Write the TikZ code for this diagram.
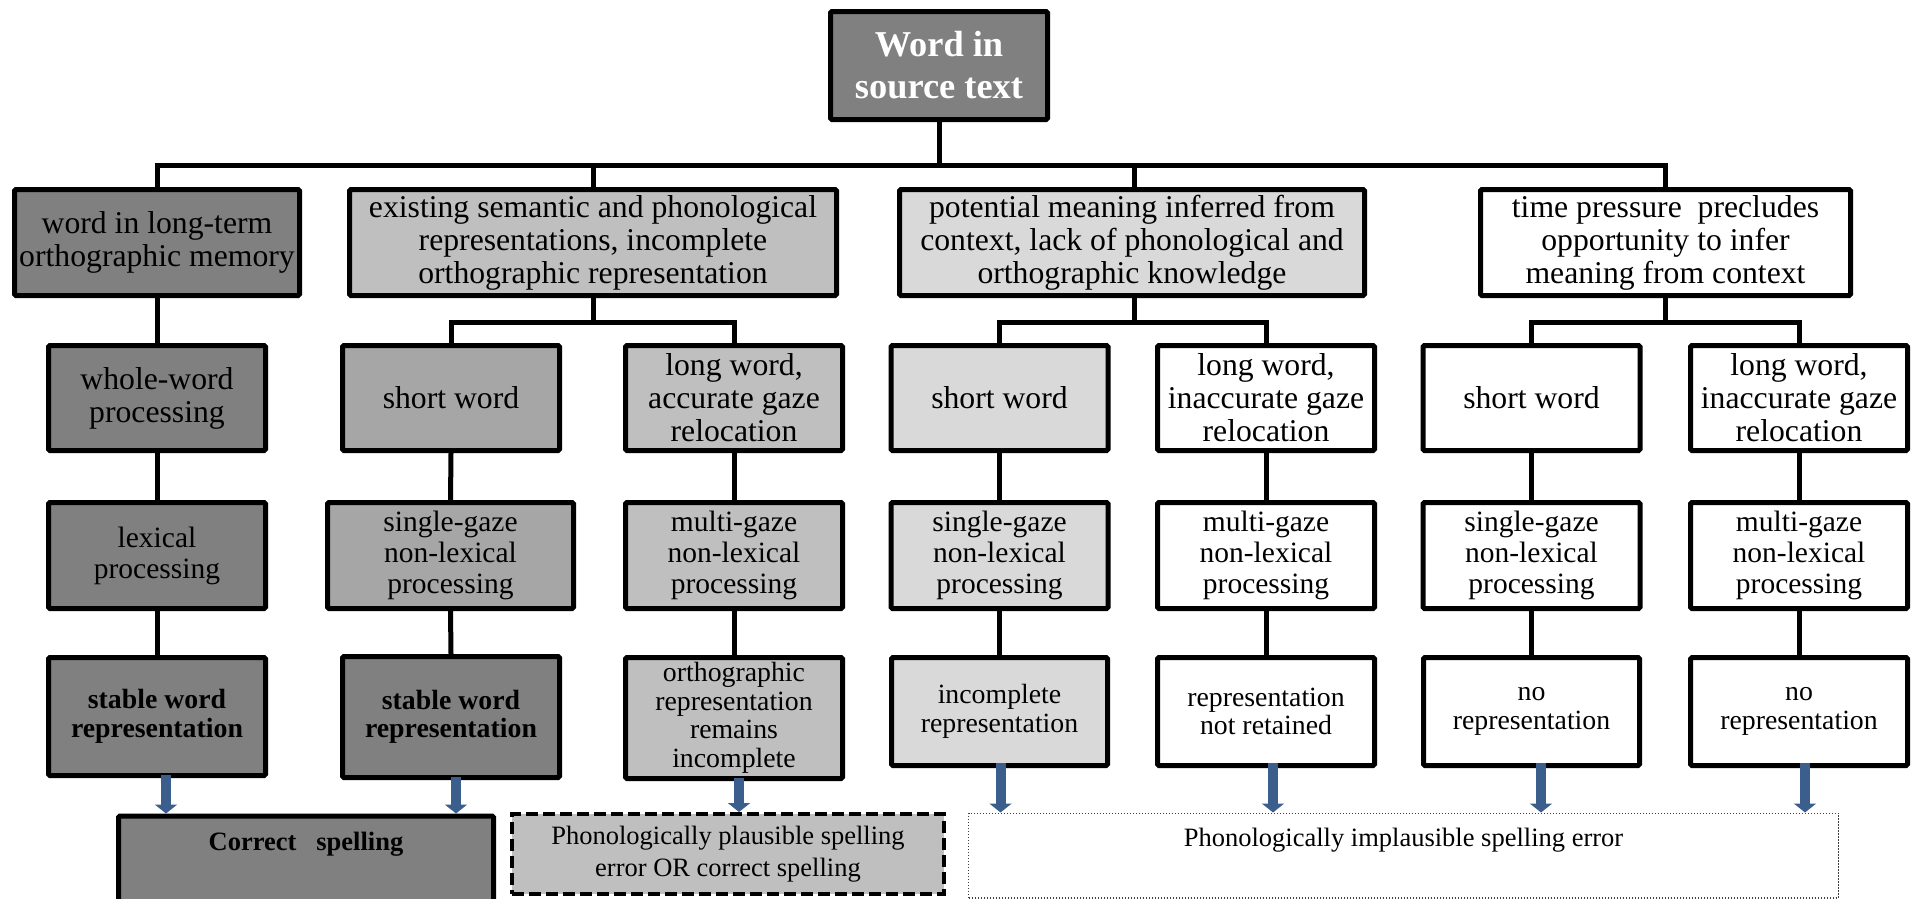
\documentclass[tikz,border=0pt]{standalone}
\usepackage{fontspec}
\setmainfont{Liberation Serif}
\usetikzlibrary{arrows.meta}
\definecolor{gdark}{HTML}{808080}
\definecolor{gmed}{HTML}{A6A6A6}
\definecolor{glight}{HTML}{BFBFBF}
\definecolor{glighter}{HTML}{D9D9D9}
\definecolor{arrowblue}{HTML}{3B5E8C}
\tikzset{
  box/.style={draw=black, line width=5pt, rounded corners=1.5pt, inner sep=0pt, align=center, text=black},
  ftop/.style={font=\fontsize{36.4}{42}\selectfont\bfseries},
  fone/.style={font=\fontsize{31.7}{33}\selectfont},
  fthree/.style={font=\fontsize{29.5}{31}\selectfont},
  ffour/.style={font=\fontsize{27.8}{28.5}\selectfont},
  ffourb/.style={font=\fontsize{27.8}{28.5}\selectfont\bfseries},
  fbot/.style={font=\fontsize{26.5}{32}\selectfont},
  conn/.style={draw=black, line width=5pt},
  barrow/.style={draw=arrowblue, line width=10pt, -{Triangle[width=22pt,length=9pt]}},
  lone/.style={minimum height=106pt},
  ltwo/.style={minimum height=105pt, minimum width=217pt},
  lthree/.style={minimum height=106pt, minimum width=217pt},
}
\begin{document}
\begin{tikzpicture}[x=1pt,y=-1pt]
\useasboundingbox (0,0) rectangle (1916,898);
\clip (0,0) rectangle (1916,898);
% top
\node[box, fill=gdark, text=white, ftop, minimum width=217pt, minimum height=108pt] (top) at (939,65.5) {Word in\\source text};
% level 1
\node[box, fill=gdark, fone, lone, minimum width=285pt] (a1) at (157,242.5) {word in long-term\\orthographic memory};
\node[box, fill=glight, fone, lone, minimum width=487pt] (b1) at (593,242.5) {existing semantic and phonological\\representations, incomplete\\orthographic representation};
\node[box, fill=glighter, fone, lone, minimum width=465pt] (c1) at (1132,242.5) {potential meaning inferred from\\context, lack of phonological and\\orthographic knowledge};
\node[box, fill=white, fone, lone, minimum width=370pt] (d1) at (1665.5,242.5) {time pressure\ \ precludes\\opportunity to infer\\meaning from context};
% level 2
\node[box, fill=gdark, fone, ltwo] (a2) at (157,398) {whole-word\\processing};
\node[box, fill=gmed, fone, ltwo] (b2a) at (451,398) {short word};
\node[box, fill=glight, fone, ltwo] (b2b) at (734,398) {long word,\\accurate gaze\\relocation};
\node[box, fill=glighter, fone, ltwo] (c2a) at (999.5,398) {short word};
\node[box, fill=white, fone, ltwo] (c2b) at (1266,398) {long word,\\inaccurate gaze\\relocation};
\node[box, fill=white, fone, ltwo] (d2a) at (1531.5,398) {short word};
\node[box, fill=white, fone, ltwo] (d2b) at (1799,398) {long word,\\inaccurate gaze\\relocation};
% level 3
\node[box, fill=gdark, fthree, lthree] (a3) at (157,555.5) {lexical\\processing};
\node[box, fill=gmed, fthree, lthree, minimum width=246pt] (b3a) at (450.5,555.5) {single-gaze\\non-lexical\\processing};
\node[box, fill=glight, fthree, lthree] (b3b) at (734,555.5) {multi-gaze\\non-lexical\\processing};
\node[box, fill=glighter, fthree, lthree] (c3a) at (999.5,555.5) {single-gaze\\non-lexical\\processing};
\node[box, fill=white, fthree, lthree] (c3b) at (1266,555.5) {multi-gaze\\non-lexical\\processing};
\node[box, fill=white, fthree, lthree] (d3a) at (1531.5,555.5) {single-gaze\\non-lexical\\processing};
\node[box, fill=white, fthree, lthree] (d3b) at (1799,555.5) {multi-gaze\\non-lexical\\processing};
% level 4
\node[box, fill=gdark, ffourb, minimum width=217pt, minimum height=118pt] (a4) at (157,716.5) {stable word\\representation};
\node[box, fill=gdark, ffourb, minimum width=217pt, minimum height=121pt] (b4a) at (451,717) {stable word\\representation};
\node[box, fill=glight, ffour, minimum width=217pt, minimum height=121pt] (b4b) at (734,718) {orthographic\\representation\\remains\\incomplete};
\node[box, fill=glighter, ffour, minimum width=216pt, minimum height=108pt] (c4a) at (999.5,711.5) {incomplete\\representation};
\node[box, fill=white, ffour, minimum width=217pt, minimum height=108pt] (c4b) at (1266,711.5) {representation\\not retained};
\node[box, fill=white, ffour, minimum width=216pt, minimum height=108pt] (d4a) at (1531.5,711.5) {no\\representation};
\node[box, fill=white, ffour, minimum width=217pt, minimum height=108pt] (d4b) at (1799,711.5) {no\\representation};
% bottom
\node[box, fill=gdark, font=\fontsize{26.5}{32}\selectfont\bfseries, anchor=north, minimum width=375pt, text height=34.5pt, text depth=100pt] (cs) at (306,813.5) {Correct\ \ \ spelling};
\node[box, fill=glight, fbot, line width=4pt, dash pattern=on 12pt off 5pt, rounded corners=0pt, minimum width=432pt, minimum height=80pt] (pp) at (728,854) {Phonologically plausible spelling\\error OR correct spelling};
\node[draw=black!75, fill=white, line width=1.5pt, dash pattern=on 1.5pt off 1.5pt, inner sep=0pt, fbot, anchor=north, minimum width=870pt, text height=33.5pt, text depth=51pt] (pi) at (1403.5,812.5) {Phonologically implausible spelling error};
% connectors
\draw[conn] (top.south) -- ++(0,43.5) -| (a1.north);
\draw[conn] (top.south) -- ++(0,43.5) -| (b1.north);
\draw[conn] (top.south) -- ++(0,43.5) -| ([xshift=2pt]c1.north);
\draw[conn] (top.south) -- ++(0,43.5) -| (d1.north);
\draw[conn] (b1.south) -- ++(0,24.5) -| (b2a.north);
\draw[conn] (b1.south) -- ++(0,24.5) -| (b2b.north);
\draw[conn] ([xshift=2pt]c1.south) -- ++(0,24.5) -| (c2a.north);
\draw[conn] ([xshift=2pt]c1.south) -- ++(0,24.5) -| (c2b.north);
\draw[conn] (d1.south) -- ++(0,24.5) -| (d2a.north);
\draw[conn] (d1.south) -- ++(0,24.5) -| (d2b.north);
\draw[conn] (a1.south) -- (a2.north);
\draw[conn] (a2.south) -- (a3.north);
\draw[conn] (a3.south) -- (a4.north);
\draw[conn] (b2a.south) -- (b3a.north);
\draw[conn] (b3a.south) -- (b4a.north);
\draw[conn] (b2b.south) -- (b3b.north);
\draw[conn] (b3b.south) -- (b4b.north);
\draw[conn] (c2a.south) -- (c3a.north);
\draw[conn] (c3a.south) -- (c4a.north);
\draw[conn] (c2b.south) -- (c3b.north);
\draw[conn] (c3b.south) -- (c4b.north);
\draw[conn] (d2a.south) -- (d3a.north);
\draw[conn] (d3a.south) -- (d4a.north);
\draw[conn] (d2b.south) -- (d3b.north);
\draw[conn] (d3b.south) -- (d4b.north);
% blue arrows
\draw[barrow] ([xshift=9pt,yshift=3pt]a4.south) -- ([xshift=9pt]a4.south |- cs.north);
\draw[barrow] ([xshift=5pt,yshift=3pt]b4a.south) -- ([xshift=5pt]b4a.south |- cs.north);
\draw[barrow] ([xshift=5pt,yshift=3pt]b4b.south) -- ([xshift=5pt]b4b.south |- pp.north);
\draw[barrow] ([xshift=1pt,yshift=5pt]c4a.south) -- ([xshift=1pt]c4a.south |- pi.north);
\draw[barrow] ([xshift=7pt,yshift=5pt]c4b.south) -- ([xshift=7pt]c4b.south |- pi.north);
\draw[barrow] ([xshift=9.5pt,yshift=5pt]d4a.south) -- ([xshift=9.5pt]d4a.south |- pi.north);
\draw[barrow] ([xshift=6pt,yshift=5pt]d4b.south) -- ([xshift=6pt]d4b.south |- pi.north);
\end{tikzpicture}
\end{document}
